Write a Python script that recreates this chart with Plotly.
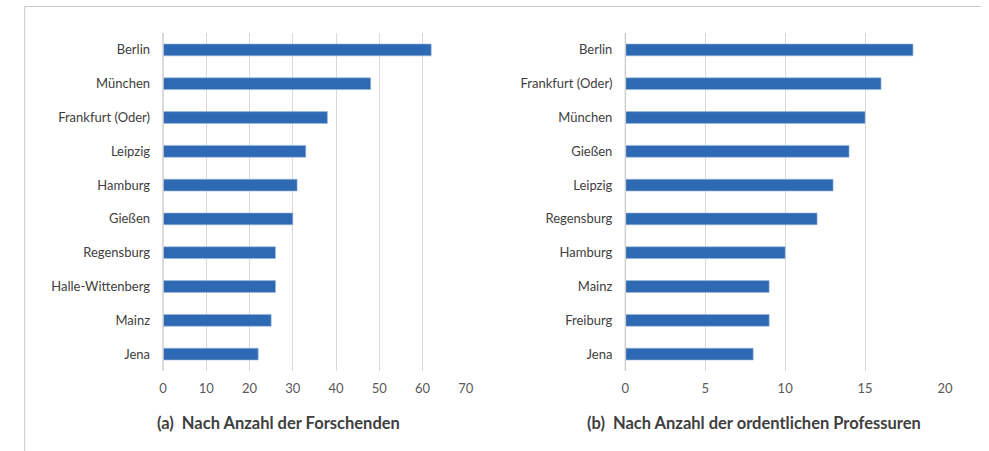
import plotly.graph_objects as go

cities_a = ["Berlin", "München", "Frankfurt (Oder)", "Leipzig", "Hamburg",
            "Gießen", "Regensburg", "Halle-Wittenberg", "Mainz", "Jena"]
values_a = [62, 48, 38, 33, 31, 30, 26, 26, 25, 22]

cities_b = ["Berlin", "Frankfurt (Oder)", "München", "Gießen", "Leipzig",
            "Regensburg", "Hamburg", "Mainz", "Freiburg", "Jena"]
values_b = [18, 16, 15, 14, 13, 12, 10, 9, 9, 8]

title_a = "(a)\u00a0\u00a0Nach Anzahl der Forschenden"
title_b = "(b)\u00a0\u00a0Nach Anzahl der ordentlichen Professuren"

W, H = 989, 451
FONT = "Lato"
BAR = "#2e6ab3"
GRID = "#d9d9d9"
TICK = "#595959"

fig = go.Figure()
fig.add_trace(go.Bar(y=cities_a, x=values_a, orientation="h", xaxis="x", yaxis="y",
                     marker=dict(color=BAR, line=dict(color="#9db8dd", width=0.6)),
                     width=0.35, showlegend=False))
fig.add_trace(go.Bar(y=cities_b, x=values_b, orientation="h", xaxis="x2", yaxis="y2",
                     marker=dict(color=BAR, line=dict(color="#9db8dd", width=0.6)),
                     width=0.35, showlegend=False))

ydom = [1 - 371 / H, 1 - 33 / H]

def xax(dom, rng, dtick):
    return dict(domain=dom, range=rng, dtick=dtick, tick0=0, showgrid=True, gridcolor=GRID,
                gridwidth=1, zeroline=False, showline=False, ticks="",
                tickfont=dict(family=FONT, size=13, color=TICK), ticklabelstandoff=8,
                fixedrange=True)

def yax(anchor):
    return dict(domain=ydom, anchor=anchor, autorange="reversed", showgrid=False,
                zeroline=False, showline=False, ticks="",
                tickfont=dict(family=FONT, size=13, color="#404040"),
                ticklabelstandoff=12, fixedrange=True)

fig.update_layout(
    width=W, height=H, autosize=False, margin=dict(l=0, r=0, t=0, b=0),
    paper_bgcolor="white", plot_bgcolor="white",
    xaxis=dict(**xax([161 / W, 467.5 / W], [0, 70], 10), anchor="y"),
    yaxis=yax("x"),
    xaxis2=dict(**xax([629 / W, 952.5 / W], [0, 20], 5), anchor="y2"),
    yaxis2=yax("x2"),
    bargap=0.65,
    annotations=[
        dict(text=title_a, x=278 / W, y=1 - 423 / H, xref="paper", yref="paper",
             xanchor="center", yanchor="middle",
             showarrow=False, font=dict(family=FONT, size=16.5, color="#404040", weight="bold")),
        dict(text=title_b, x=759 / W, y=1 - 423 / H, xref="paper", yref="paper",
             xanchor="center", yanchor="middle",
             showarrow=False, font=dict(family=FONT, size=16.5, color="#404040", weight="bold")),
    ],
    shapes=[
        dict(type="line", xref="paper", yref="paper", x0=21 / W, x1=1, y0=1 - 6.5 / H, y1=1 - 6.5 / H,
             line=dict(color="#c8c8c8", width=1)),
        dict(type="line", xref="paper", yref="paper", x0=21 / W, x1=21 / W, y0=0, y1=1 - 6.5 / H,
             line=dict(color="#c8c8c8", width=1)),
        dict(type="line", xref="paper", yref="paper", x0=161 / W, x1=161 / W, y0=ydom[0], y1=ydom[1],
             line=dict(color="#cfcfcf", width=1.5)),
        dict(type="line", xref="paper", yref="paper", x0=629 / W, x1=629 / W, y0=ydom[0], y1=ydom[1],
             line=dict(color="#cfcfcf", width=1.5)),
    ],
)

page_css = (
    "document.documentElement.style.overflow='hidden';"
    "document.body.style.margin='0';"
    "document.body.style.padding='0';"
    "document.body.style.overflow='hidden';"
)

fig.write_html("out.html", config={"displayModeBar": False, "responsive": False},
               post_script=page_css)
